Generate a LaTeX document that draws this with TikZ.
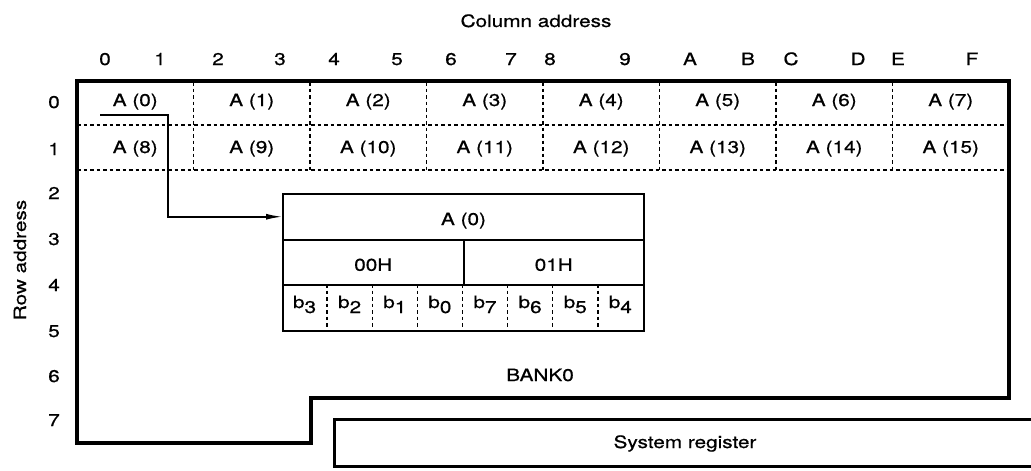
\documentclass[tikz,border=0pt]{standalone}
\usepackage{fontspec}
\setmainfont[FakeStretch=1.22,FakeBold=0.7]{TeX Gyre Heros}
\usetikzlibrary{arrows.meta}

\tikzset{
  frame/.style={line width=3.5pt,line join=miter},
  sysline/.style={line width=3pt},
  gridline/.style={line width=1.3pt,dash pattern=on 3.5pt off 3pt},
  cellbox/.style={draw,line width=2pt,inner sep=0pt,minimum height=45.5pt},
  lbl/.style={anchor=base,inner sep=0pt,font=\fontsize{17}{20}\selectfont},
  link/.style={line width=1.5pt,-{Latex[length=16pt,width=6pt]}}
}
\newcommand{\bitlbl}[1]{b\raisebox{-5pt}{#1}}

\begin{document}
\begin{tikzpicture}[x=1pt,y=-1pt]
\useasboundingbox (0,0) rectangle (1031,471);

% axis captions
\node[lbl] (coladdr) at (536,27) {Column address};
\node[lbl,rotate=90] (rowaddr) at (26,260) {Row address};

% column and row numbers
\foreach \c/\x [count=\i from 0] in {0/105,1/160,2/218,3/280,4/334,5/397,6/451,7/511,
    8/550,9/625,A/690,B/748,C/791,D/858,E/898,F/972}
  \node[lbl] (col\i) at (\x,65) {\c};
\foreach \r/\y in {0/108,1/155,2/199,3/245,4/291,5/337,6/382,7/426}
  \node[lbl] (row\r) at (54,\y) {\r};

% bank outline
\draw[frame] (77,81) -- (1009,81) -- (1009,398) -- (311,398) -- (311,443)
  -- (77,443) -- cycle;
\draw[gridline] (77,125) -- (1009,125);
\draw[gridline] (77,170) -- (1009,170);
\foreach \k in {1,...,7}
  \draw[gridline] (77+116.5*\k,82) -- (77+116.5*\k,170);

% A(0) ... A(15)
\foreach \i in {0,...,7} {
  \pgfmathtruncatemacro{\j}{\i+8}
  \node[lbl] (a\i) at (135.25+116.5*\i,106) {A (\i)};
  \node[lbl] (a\j) at (135.25+116.5*\i,153) {A (\j)};
}

% detail of A(0)
\node[cellbox,minimum width=361pt,anchor=north west] (word) at (282,193) {};
\node[cellbox,minimum width=180.5pt,anchor=north west] (lowbyte) at (282,238.5) {};
\node[cellbox,minimum width=180.5pt,anchor=north west] (highbyte) at (462.5,238.5) {};
\node[cellbox,minimum width=361pt,anchor=north west] (bits) at (282,284) {};
\foreach \k in {1,...,7}
  \draw[gridline] (282+45.125*\k,284) -- (282+45.125*\k,329.5);

\node[lbl] (wordtxt) at (word.center) [yshift=-8.25pt] {A (0)};
\node[lbl] (lowtxt) at (lowbyte.center) [yshift=-8.5pt] {00H};
\node[lbl] (hightxt) at (highbyte.center) [yshift=-8.5pt] {01H};
\foreach \b [count=\k from 0] in {3,2,1,0,7,6,5,4}
  \node[lbl] (bit\b) at (304.5+45.125*\k,308) {\bitlbl{\b}};

\coordinate (src) at (100,115);
\coordinate (knee) at (168,115);
\draw[link] (src) -- (knee) |- (word.west);

\node[lbl] (bank) at (540,381) {BANK0};

% system register
\draw[sysline] (1031,419) -- (334,419) -- (334,466) -- (1031,466);
\node[lbl] (sysreg) at (685,448) {System register};

\end{tikzpicture}
\end{document}
